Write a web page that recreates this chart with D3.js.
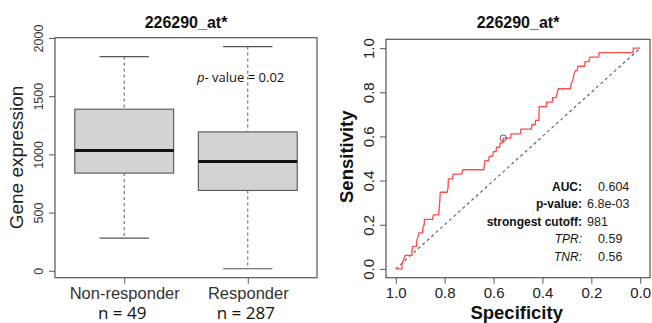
<!DOCTYPE html>
<html>
<head>
<meta charset="utf-8">
<script src="https://cdn.jsdelivr.net/npm/d3@7"></script>
<style>
  body { margin: 0; background: #fff; }
  svg { display: block; font-family: 'Liberation Sans', Arial, sans-serif; }
  .calibri { font-family: 'Open Sans', 'Liberation Sans', sans-serif; }
</style>
</head>
<body>
<svg id="chart" width="652" height="323"></svg>
<script>
// Box plot summary
const groups = ['Non-responder', 'Responder']
const groupN = [49, 287]
const whiskerLo = [281, 17]
const q1 = [839, 690]
const medians = [1033, 939]
const q3 = [1388, 1193]
const whiskerHi = [1840, 1926]
const exprTicks = [0, 500, 1000, 1500, 2000]
const boxTitle = '226290_at*'
const pValueText = '= 0.02'

// ROC curve vertices (specificity, sensitivity)
const rocSpec = [1.000, 0.975, 0.975, 0.968, 0.962, 0.934, 0.934, 0.930, 0.915, 0.915,
  0.910, 0.905, 0.890, 0.890, 0.883, 0.883, 0.850, 0.846, 0.825, 0.823,
  0.820, 0.818, 0.790, 0.786, 0.785, 0.768, 0.765, 0.730, 0.725, 0.640,
  0.638, 0.635, 0.620, 0.618, 0.605, 0.600, 0.590, 0.588, 0.575, 0.573,
  0.562, 0.560, 0.530, 0.528, 0.490, 0.488, 0.445, 0.443, 0.430, 0.428,
  0.415, 0.413, 0.385, 0.383, 0.360, 0.358, 0.345, 0.340, 0.335, 0.285,
  0.283, 0.275, 0.272, 0.265, 0.258, 0.255, 0.228, 0.225, 0.210, 0.206,
  0.170, 0.168, 0.030, 0.028, 0.000]
const rocSens = [0.000, 0.000, 0.020, 0.041, 0.061, 0.061, 0.082, 0.102, 0.102, 0.122,
  0.143, 0.163, 0.163, 0.184, 0.204, 0.224, 0.224, 0.245, 0.245, 0.265,
  0.306, 0.347, 0.347, 0.367, 0.408, 0.408, 0.429, 0.429, 0.449, 0.449,
  0.469, 0.490, 0.490, 0.510, 0.510, 0.531, 0.531, 0.551, 0.551, 0.571,
  0.571, 0.592, 0.592, 0.612, 0.612, 0.633, 0.633, 0.653, 0.653, 0.673,
  0.673, 0.735, 0.735, 0.755, 0.755, 0.776, 0.776, 0.796, 0.816, 0.816,
  0.837, 0.857, 0.878, 0.898, 0.898, 0.918, 0.918, 0.939, 0.939, 0.959,
  0.959, 0.980, 0.980, 1.000, 1.000]
const cutoffPoint = [0.56, 0.592]
const rocTicks = [1.0, 0.8, 0.6, 0.4, 0.2, 0.0]
const statLabels = ['AUC:', 'p-value:', 'strongest cutoff:', 'TPR:', 'TNR:']
const statValues = ['0.604', '6.8e-03', '981', '0.59', '0.56']
const statItalic = [false, false, false, true, true]
const statValueX = [598, 587, 587, 598, 598]

const svg = d3.select('#chart')

// ---------- left panel: box plot ----------
let left = { x0: 55, x1: 317, y0: 37.7, y1: 277.7 }
let lo = d3.min(whiskerLo)
let hi = d3.max(whiskerHi)
let pad = (hi - lo) * 0.04
let yScale = d3.scaleLinear().domain([lo - pad, hi + pad]).range([left.y1, left.y0])
let xScale = d3.scaleLinear().domain([0.44, 2.56]).range([left.x0, left.x1])
let boxW = 0.8
let capW = 0.4

let lp = svg.append('g')

let boxes = lp.selectAll('g.box')
  .data(groups.map((g, i) => ({
    pos: i + 1, lo: whiskerLo[i], q1: q1[i], med: medians[i], q3: q3[i], hi: whiskerHi[i]
  })))
  .join('g')
  .attr('class', 'box')

boxes.append('line')
  .attr('x1', d => xScale(d.pos)).attr('x2', d => xScale(d.pos))
  .attr('y1', d => yScale(d.hi)).attr('y2', d => yScale(d.q3))
  .attr('stroke', '#555').attr('stroke-dasharray', '3,3')
boxes.append('line')
  .attr('x1', d => xScale(d.pos)).attr('x2', d => xScale(d.pos))
  .attr('y1', d => yScale(d.q1)).attr('y2', d => yScale(d.lo))
  .attr('stroke', '#555').attr('stroke-dasharray', '3,3')
boxes.selectAll('line.cap')
  .data(d => [d, d].map((v, k) => ({ pos: v.pos, val: k ? v.lo : v.hi })))
  .join('line')
  .attr('class', 'cap')
  .attr('x1', d => xScale(d.pos - capW / 2)).attr('x2', d => xScale(d.pos + capW / 2))
  .attr('y1', d => yScale(d.val)).attr('y2', d => yScale(d.val))
  .attr('stroke', '#555').attr('stroke-width', 1.1)
boxes.append('rect')
  .attr('x', d => xScale(d.pos - boxW / 2))
  .attr('width', d => xScale(d.pos + boxW / 2) - xScale(d.pos - boxW / 2))
  .attr('y', d => yScale(d.q3))
  .attr('height', d => yScale(d.q1) - yScale(d.q3))
  .attr('fill', '#d3d3d3').attr('stroke', '#555').attr('stroke-width', 1.1)
boxes.append('line')
  .attr('x1', d => xScale(d.pos - boxW / 2)).attr('x2', d => xScale(d.pos + boxW / 2))
  .attr('y1', d => yScale(d.med)).attr('y2', d => yScale(d.med))
  .attr('stroke', '#111').attr('stroke-width', 3)

lp.append('rect')
  .attr('x', left.x0).attr('y', left.y0)
  .attr('width', left.x1 - left.x0).attr('height', left.y1 - left.y0)
  .attr('fill', 'none').attr('stroke', '#555').attr('stroke-width', 1.2)

let yAxisL = lp.append('g')
  .attr('transform', `translate(${left.x0},0)`)
  .call(d3.axisLeft(yScale).tickValues(exprTicks).tickSize(6).tickFormat(d3.format('d')))
yAxisL.select('.domain').remove()
yAxisL.selectAll('line').attr('stroke', '#555')
yAxisL.selectAll('text')
  .attr('transform', 'rotate(-90)')
  .attr('x', 0).attr('y', -12.5).attr('dy', 0)
  .attr('text-anchor', 'middle')
  .attr('fill', '#333')
  .style('font-size', '12.5px')

let xAxisL = lp.append('g')
  .attr('transform', `translate(0,${left.y1})`)
  .call(d3.axisBottom(xScale).tickValues([1, 2]).tickSize(6).tickPadding(3.5)
    .tickFormat(d => groups[d - 1]))
xAxisL.select('.domain').remove()
xAxisL.selectAll('line').attr('stroke', '#555')
xAxisL.selectAll('text').attr('fill', '#333').style('font-size', '16.5px')

lp.selectAll('text.nlab')
  .data(groupN)
  .join('text')
  .attr('class', 'nlab calibri')
  .attr('x', (d, i) => xScale(i + 1) - 2)
  .attr('y', 319)
  .attr('text-anchor', 'middle')
  .style('font-size', '17px')
  .attr('fill', '#111')
  .text(d => `n = ${d}`)

lp.append('text')
  .attr('x', (left.x0 + left.x1) / 2).attr('y', 27.5)
  .attr('text-anchor', 'middle')
  .style('font-size', '16px').style('font-weight', 'bold')
  .attr('fill', '#111')
  .text(boxTitle)

lp.append('text')
  .attr('transform', 'translate(23,157.5) rotate(-90)')
  .attr('text-anchor', 'middle')
  .style('font-size', '19px')
  .attr('fill', '#222')
  .text('Gene expression')

let pv = lp.append('text')
  .attr('class', 'calibri')
  .attr('x', 197).attr('y', 81.5)
  .style('font-size', '13px')
  .attr('fill', '#111')
pv.append('tspan').style('font-style', 'italic').text('p')
pv.append('tspan').text('- value ' + pValueText)

// ---------- right panel: ROC ----------
let right = { x0: 386, x1: 650, y0: 39.3, y1: 277.7 }
let sx = d3.scaleLinear().domain([1.04, -0.04]).range([right.x0, right.x1])
let sy = d3.scaleLinear().domain([-0.04, 1.04]).range([right.y1, right.y0])

let rp = svg.append('g')

rp.append('line')
  .attr('x1', sx(1)).attr('y1', sy(0))
  .attr('x2', sx(0)).attr('y2', sy(1))
  .attr('stroke', '#666').attr('stroke-width', 1.2)
  .attr('stroke-dasharray', '3,3')

let rocLine = d3.line()
  .x(d => sx(d[0]))
  .y(d => sy(d[1]))

rp.append('path')
  .datum(rocSpec.map((s, i) => [s, rocSens[i]]))
  .attr('d', rocLine)
  .attr('fill', 'none')
  .attr('stroke', '#ff4a4a')
  .attr('stroke-width', 1.3)

rp.append('circle')
  .attr('cx', sx(cutoffPoint[0])).attr('cy', sy(cutoffPoint[1]))
  .attr('r', 3.2)
  .attr('fill', 'none').attr('stroke', '#555').attr('stroke-width', 1)

rp.append('rect')
  .attr('x', right.x0).attr('y', right.y0)
  .attr('width', right.x1 - right.x0).attr('height', right.y1 - right.y0)
  .attr('fill', 'none').attr('stroke', '#555').attr('stroke-width', 1.2)

let yAxisR = rp.append('g')
  .attr('transform', `translate(${right.x0},0)`)
  .call(d3.axisLeft(sy).tickValues(rocTicks).tickSize(6).tickFormat(d3.format('.1f')))
yAxisR.select('.domain').remove()
yAxisR.selectAll('line').attr('stroke', '#555')
yAxisR.selectAll('text')
  .attr('transform', 'rotate(-90)')
  .attr('x', 0).attr('y', -12.5).attr('dy', 0)
  .attr('text-anchor', 'middle')
  .attr('fill', '#222')
  .style('font-size', '15px')

let xAxisR = rp.append('g')
  .attr('transform', `translate(0,${right.y1})`)
  .call(d3.axisBottom(sx).tickValues(rocTicks).tickSize(6).tickPadding(4)
    .tickFormat(d3.format('.1f')))
xAxisR.select('.domain').remove()
xAxisR.selectAll('line').attr('stroke', '#555')
xAxisR.selectAll('text').attr('fill', '#222').style('font-size', '15px')

rp.append('text')
  .attr('x', (sx(1) + sx(0)) / 2).attr('y', 27.5)
  .attr('text-anchor', 'middle')
  .style('font-size', '16px').style('font-weight', 'bold')
  .attr('fill', '#111')
  .text(boxTitle)

rp.append('text')
  .attr('x', 516.7).attr('y', 318.5)
  .attr('text-anchor', 'middle')
  .style('font-size', '18.5px').style('font-weight', 'bold')
  .attr('fill', '#111')
  .text('Specificity')

rp.append('text')
  .attr('transform', 'translate(353,156.7) rotate(-90)')
  .attr('text-anchor', 'middle')
  .style('font-size', '18.5px').style('font-weight', 'bold')
  .attr('fill', '#111')
  .text('Sensitivity')

let stats = rp.selectAll('g.stat')
  .data(statLabels)
  .join('g')
  .attr('class', 'stat')
  .attr('transform', (d, i) => `translate(0,${190.5 + i * 17.6})`)

stats.append('text')
  .attr('x', 582)
  .attr('text-anchor', 'end')
  .style('font-size', '12px')
  .style('font-weight', (d, i) => statItalic[i] ? 'normal' : 'bold')
  .style('font-style', (d, i) => statItalic[i] ? 'italic' : 'normal')
  .attr('fill', '#111')
  .text(d => d)

stats.append('text')
  .attr('x', (d, i) => statValueX[i])
  .style('font-size', '12.5px')
  .attr('fill', '#222')
  .text((d, i) => statValues[i])
</script>
</body>
</html>
